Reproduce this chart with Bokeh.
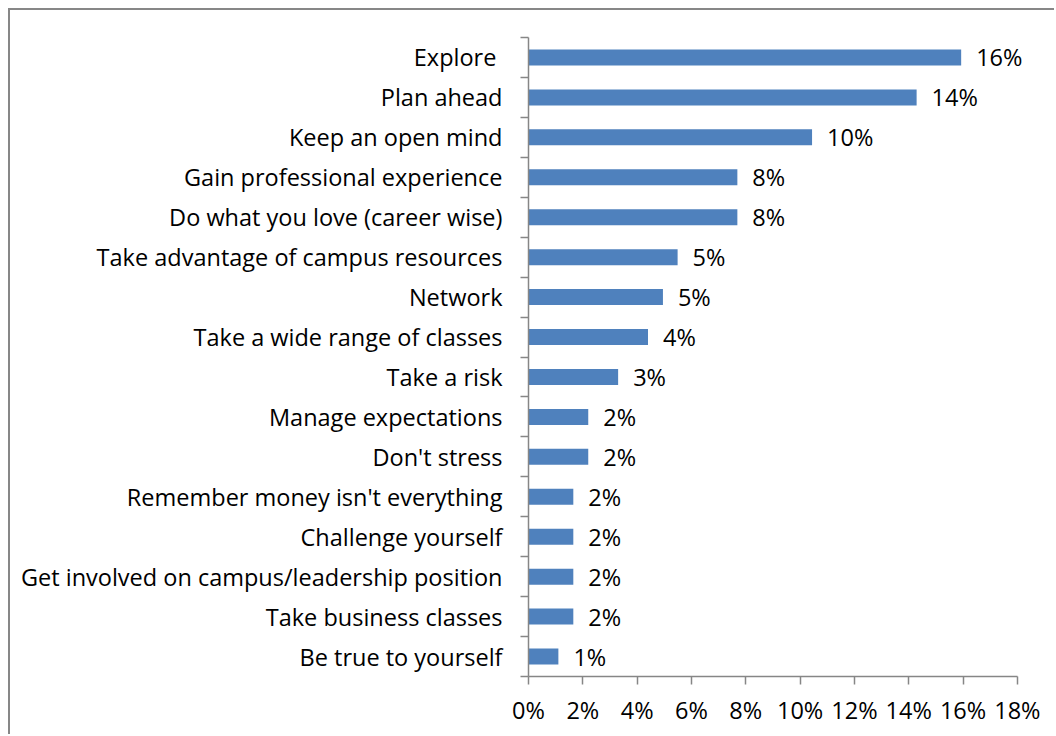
from bokeh.plotting import figure
from bokeh.models import Range1d, FixedTicker, ColumnDataSource, LabelSet
from bokeh.core.properties import value
from bokeh.embed import file_html
from bokeh.resources import INLINE

# Data (top to bottom as in the chart)
categories = [
    "Explore ",
    "Plan ahead",
    "Keep an open mind",
    "Gain professional experience",
    "Do what you love (career wise)",
    "Take advantage of campus resources",
    "Network",
    "Take a wide range of classes",
    "Take a risk",
    "Manage expectations",
    "Don't stress",
    "Remember money isn't everything",
    "Challenge yourself",
    "Get involved on campus/leadership position",
    "Take business classes",
    "Be true to yourself",
]
percent_values = [15.93, 14.29, 10.44, 7.69, 7.69, 5.49, 4.95, 4.40,
                  3.30, 2.20, 2.20, 1.65, 1.65, 1.65, 1.65, 1.10]
x_ticks = [0, 2, 4, 6, 8, 10, 12, 14, 16, 18]
x_tick_labels = ["0%", "2%", "4%", "6%", "8%", "10%", "12%", "14%", "16%", "18%"]

FONT = "Open Sans"
FS = "23.5px"
n = len(categories)
# bottom-to-top positions: first category at top
centers = [n - 1 - i + 0.5 for i in range(n)]
labels = [f"{round(v)}%" for v in percent_values]

src = ColumnDataSource(dict(y=centers, v=percent_values, lab=labels, cat=categories))

# frame extends to the canvas edge so value labels are not clipped;
# the axis line is bounded to 0..18
p = figure(width=1046, height=726, output_backend="svg", toolbar_location=None,
           x_range=Range1d(0, 19.44), y_range=Range1d(0, n),
           min_border_left=518, min_border_right=0, min_border_top=27,
           min_border_bottom=60)
p.styles = {"border-left": "2px solid #878787", "border-top": "2px solid #878787",
            "margin-left": "8px", "margin-top": "8px"}
p.outline_line_color = None
p.xgrid.grid_line_color = None
p.ygrid.grid_line_color = None
p.background_fill_color = "white"
p.border_fill_color = "white"

p.hbar(y="y", left=0, right="v", height=0.4, source=src,
       fill_color="#4F81BD", line_color=None)
value_labels = LabelSet(x="v", y="y", text="lab", source=src, x_offset=15,
                        text_align="left", text_baseline="middle",
                        text_font=value(FONT), text_font_size=value(FS),
                        text_color="black", level="overlay")
p.add_layout(value_labels)

# x axis
xa = p.xaxis[0]
xa.bounds = (0, 18)
xa.ticker = FixedTicker(ticks=x_ticks)
xa.major_label_overrides = {t: l for t, l in zip(x_ticks, x_tick_labels)}
xa.axis_line_color = "#868686"
xa.axis_line_width = 1.5
xa.major_tick_line_color = "#868686"
xa.major_tick_line_width = 1.5
xa.major_tick_out = 8
xa.major_tick_in = 0
xa.minor_tick_line_color = None
xa.major_label_text_font = FONT
xa.major_label_text_font_size = FS
xa.major_label_text_color = "black"
xa.major_label_standoff = 9

# y axis: labels at centers, tick marks at boundaries
ya = p.yaxis[0]
ya.ticker = FixedTicker(ticks=centers, minor_ticks=list(range(n + 1)))
ya.major_label_overrides = {c: cat for c, cat in zip(centers, categories)}
ya.axis_line_color = "#868686"
ya.axis_line_width = 1.5
ya.major_tick_line_color = None
ya.major_tick_out = 0
ya.major_tick_in = 0
ya.minor_tick_line_color = "#868686"
ya.minor_tick_line_width = 1.5
ya.minor_tick_out = 8
ya.minor_tick_in = 0
ya.major_label_text_font = FONT
ya.major_label_text_font_size = FS
ya.major_label_text_color = "black"
ya.major_label_standoff = 18

open("out.html", "w").write(file_html(p, INLINE))
